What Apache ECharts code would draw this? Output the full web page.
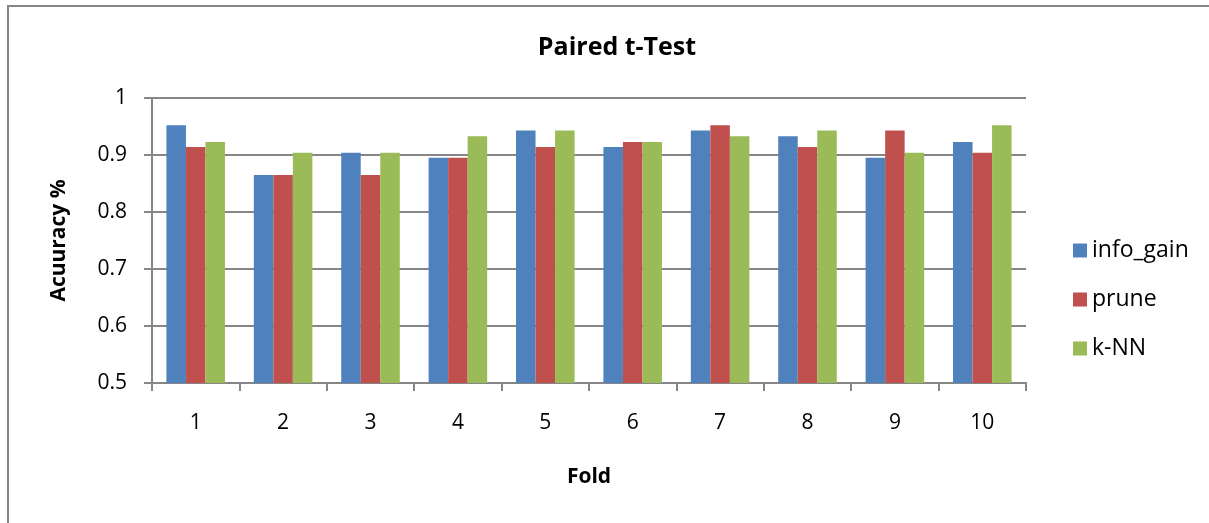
<!DOCTYPE html>
<html><head><meta charset="utf-8">
<script src="https://cdn.jsdelivr.net/npm/echarts@6/dist/echarts.min.js"></script>
<style>html,body{margin:0;padding:0;background:#fff}#c{width:1209px;height:523px}</style>
</head><body><div id="c"></div>
<script>
const folds = ['1','2','3','4','5','6','7','8','9','10'];
const infoGain = [0.952,0.865,0.904,0.895,0.943,0.914,0.943,0.933,0.895,0.923];
const prune    = [0.914,0.865,0.865,0.895,0.914,0.923,0.952,0.914,0.943,0.904];
const knn      = [0.923,0.904,0.904,0.933,0.943,0.923,0.933,0.943,0.904,0.952];
const yTicks = ['0.5','0.6','0.7','0.8','0.9','1'];

const FONT = 'Open Sans';
const chart = echarts.init(document.getElementById('c'));
const mk = (name, data, color) => ({
  name, type:'bar', data, barGap:'0%', barCategoryGap:'33%',
  itemStyle:{color}
});
chart.setOption({
  animation:false,
  textStyle:{fontFamily:FONT},
  title:{text:'Paired t-Test', left:612, textAlign:'center', top:30,
    textStyle:{fontFamily:FONT, fontWeight:'bold', fontSize:25, color:'#000'}},
  grid:{left:152, right:183, top:98, bottom:140},
  legend:{orient:'vertical', left:1068, top:234, itemWidth:14, itemHeight:14, itemGap:26,
    icon:'rect', textStyle:{fontFamily:FONT, fontSize:23, lineHeight:22, color:'#000', padding:[0,0,0,0]},
    data:['info_gain','prune','k-NN']},
  xAxis:{type:'category', data:folds, name:'Fold', nameLocation:'middle', nameGap:84,
    nameTextStyle:{fontFamily:FONT, fontWeight:'bold', fontSize:21, color:'#000'},
    axisLine:{lineStyle:{color:'#868686', width:2}},
    axisTick:{show:true, length:8, lineStyle:{color:'#868686', width:2}, alignWithLabel:false},
    axisLabel:{fontFamily:FONT, fontSize:21, color:'#000', margin:30}},
  yAxis:{type:'value', min:0.5, max:1, interval:0.1, name:'Acuuracy %', nameLocation:'middle', nameGap:82,
    nameTextStyle:{fontFamily:FONT, fontWeight:'bold', fontSize:21, color:'#000'},
    axisLine:{show:true, lineStyle:{color:'#868686', width:2}},
    axisTick:{show:true, length:8, lineStyle:{color:'#868686', width:2}},
    axisLabel:{fontFamily:FONT, fontSize:21, color:'#000', margin:25,
      formatter:(v)=>{const i=Math.round((v-0.5)*10); return yTicks[i];}},
    splitLine:{lineStyle:{color:'#868686', width:2}}},
  graphic:[
    {type:'line', shape:{x1:8, y1:5, x2:8, y2:523}, style:{stroke:'#868686', lineWidth:2}},
    {type:'line', shape:{x1:7, y1:6, x2:1209, y2:6}, style:{stroke:'#868686', lineWidth:2}}
  ],
  series:[mk('info_gain', infoGain, '#4F81BD'), mk('prune', prune, '#C0504D'), mk('k-NN', knn, '#9BBB59')]
});
</script></body></html>
